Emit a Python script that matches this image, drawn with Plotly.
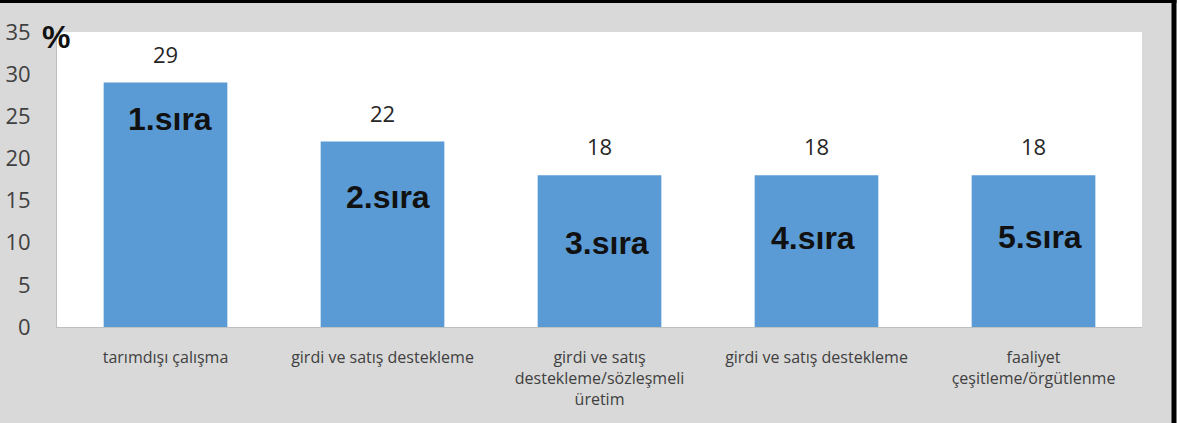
import plotly.graph_objects as go

categories = [
    "tarımdışı çalışma",
    "girdi ve satış destekleme",
    "girdi ve satış<br>destekleme/sözleşmeli<br>üretim",
    "girdi ve satış destekleme",
    "faaliyet<br>çeşitleme/örgütlenme",
]
values = [29, 22, 18, 18, 18]
rank_labels = ["1.sıra", "2.sıra", "3.sıra", "4.sıra", "5.sıra"]
y_ticks = [0, 5, 10, 15, 20, 25, 30, 35]

# layout-only offsets (pixels) for the rank labels inside the bars
rank_dx = [4, 5, 7, -4, 6]
rank_dy = [-36, -55, -68, -63, -62]

xs = list(range(len(categories)))

fig = go.Figure()
fig.add_trace(go.Bar(
    x=xs, y=values, marker=dict(color="#5b9bd5", line=dict(width=0)),
    width=0.57, hoverinfo="skip",
))

FONT = "Open Sans"
ann = []
for i, v in enumerate(values):
    ann.append(dict(x=xs[i], y=v, xref="x", yref="y", text=str(v), showarrow=False,
                    yshift=29, font=dict(family=FONT, size=22, color="#262626")))
    ann.append(dict(x=xs[i], y=v, xref="x", yref="y", text="<b>%s</b>" % rank_labels[i],
                    showarrow=False, xshift=rank_dx[i], yshift=rank_dy[i],
                    font=dict(family="Liberation Sans", size=32, color="#111111")))
ann.append(dict(x=0.0, y=1.0, xref="paper", yref="paper", xanchor="center", yanchor="middle",
                xshift=-1, yshift=-5, text="<b>%</b>", showarrow=False,
                font=dict(family="Liberation Sans", size=32, color="#111111")))

W, H = 1180, 423
L, R, T, B = 57, 38, 32, 96
pw, ph = W - L - R, H - T - B

def px2x(px):
    return (px - L) / pw

def py2y(py):
    return (H - B - py) / ph

shapes = [
    dict(type="rect", xref="paper", yref="paper", x0=px2x(1175), x1=px2x(1185),
         y0=py2y(430), y1=py2y(-5), fillcolor="white", line=dict(width=0), layer="below"),
    dict(type="line", xref="paper", yref="paper", x0=px2x(1174), x1=px2x(1174),
         y0=py2y(430), y1=py2y(0), line=dict(color="black", width=5)),
    dict(type="line", xref="paper", yref="paper", x0=px2x(-5), x1=px2x(1176.5),
         y0=py2y(1.5), y1=py2y(1.5), line=dict(color="black", width=3)),
]

fig.update_layout(
    width=W, height=H,
    margin=dict(l=L, r=R, t=T, b=B, pad=0, autoexpand=False),
    paper_bgcolor="#d9d9d9",
    plot_bgcolor="white",
    showlegend=False,
    annotations=ann,
    shapes=shapes,
    font=dict(family=FONT),
    xaxis=dict(
        tickmode="array", tickvals=xs, ticktext=categories,
        range=[-0.5, len(xs) - 0.5],
        showline=True, linecolor="#bfbfbf", linewidth=1,
        showgrid=False, zeroline=False, ticks="",
        tickfont=dict(family=FONT, size=16, color="#404040"),
        ticklabelstandoff=16, tickangle=0, automargin=False,
    ),
    yaxis=dict(
        tickmode="array", tickvals=y_ticks, range=[0, 35],
        showline=True, linecolor="#bfbfbf", linewidth=1,
        showgrid=False, zeroline=False, ticks="",
        tickfont=dict(family=FONT, size=22, color="#404040"),
        ticklabelstandoff=21, automargin=False,
    ),
)

fig.write_html("out.html")
